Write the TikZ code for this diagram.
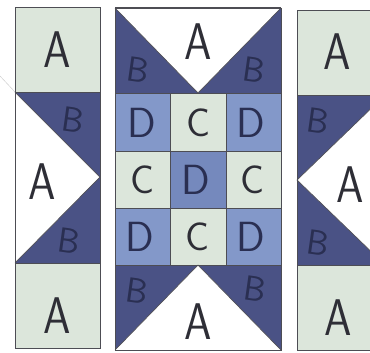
\documentclass[tikz,border=0pt]{standalone}
\definecolor{sage}{HTML}{DCE6DB}
\definecolor{navy}{HTML}{4A5285}
\definecolor{peri}{HTML}{8398C9}
\definecolor{perid}{HTML}{7589BD}
\definecolor{ink}{HTML}{2E2E36}
\definecolor{inkb}{HTML}{2A2F52}
\tikzset{
  edge/.style={draw=ink!85, line width=0.6pt},
  letA/.style={text=ink, font=\sffamily\fontsize{44}{48}\selectfont, xscale=0.85},
  letB/.style={text=inkb, font=\sffamily\fontsize{30}{32}\selectfont, rotate=-8},
  letC/.style={text=ink, font=\sffamily\fontsize{34}{36}\selectfont},
  letD/.style={text=inkb, font=\sffamily\fontsize{36}{38}\selectfont}
}
\begin{document}
\begin{tikzpicture}[x=0.03cm, y=-0.03cm]
    \useasboundingbox (0,0) rectangle (370,352);
    \clip (0,0) rectangle (370,352);
    \draw[gray!40] (0,76) -- (15,92);
    % left column
    \fill[sage] (15,7) rectangle (100,92);
    \fill[navy] (15,92) rectangle (100,263);
    \fill[white] (15,92) -- (100,177) -- (15,263) -- cycle;
    \fill[sage] (15,263) rectangle (100,348);
    \draw[edge] (15,7) rectangle (100,348);
    \draw[edge] (15,92) -- (100,92) (15,263) -- (100,263);
    \draw[edge] (15,92) -- (100,177) -- (15,263);
    \node[letA] (lA1) at (57,50) {A};
    \node[letB] (lB1) at (73,120) {B};
    \node[letA] (lA2) at (42,182) {A};
    \node[letB] (lB2) at (69,241) {B};
    \node[letA] (lA3) at (57,316) {A};
    % middle block
    \fill[navy] (115,8) rectangle (281,93);
    \fill[white] (115,8) -- (281,8) -- (198,93) -- cycle;
    \fill[navy] (115,265) rectangle (281,350);
    \fill[white] (115,350) -- (281,350) -- (198,265) -- cycle;
    \fill[peri] (115,93) rectangle (170,151);
    \fill[sage] (170,93) rectangle (226,151);
    \fill[peri] (226,93) rectangle (281,151);
    \fill[sage] (115,151) rectangle (170,208);
    \fill[perid] (170,151) rectangle (226,208);
    \fill[sage] (226,151) rectangle (281,208);
    \fill[peri] (115,208) rectangle (170,265);
    \fill[sage] (170,208) rectangle (226,265);
    \fill[peri] (226,208) rectangle (281,265);
    \draw[edge] (115,8) rectangle (281,350);
    \draw[edge, line width=1.2pt] (115,8) -- (281,8);
    \draw[edge] (115,8) -- (198,93) -- (281,8);
    \draw[edge] (115,350) -- (198,265) -- (281,350);
    \foreach \y in {93,151,208,265}
        \draw[edge] (115,\y) -- (281,\y);
    \foreach \x in {170,226}
        \draw[edge] (\x,93) -- (\x,265);
    \node[letA] (mA1) at (198,42) {A};
    \node[letB] (mB1) at (138,70) {B};
    \node[letB] (mB2) at (254,70) {B};
    \node[letD] (d1) at (142,123) {D};
    \node[letC] (c1) at (198,123) {C};
    \node[letD] (d2) at (251,123) {D};
    \node[letC] (c2) at (142,180) {C};
    \node[letD] (d3) at (196,180) {D};
    \node[letC] (c3) at (252,180) {C};
    \node[letD] (d4) at (140,237) {D};
    \node[letC] (c4) at (197,237) {C};
    \node[letD] (d5) at (251,237) {D};
    \node[letB] (mB3) at (137,291) {B};
    \node[letB] (mB4) at (255,289) {B};
    \node[letA] (mA2) at (198,322) {A};
    % right column
    \fill[sage] (297,10) rectangle (385,95);
    \fill[navy] (297,95) rectangle (385,265);
    \fill[white] (385,95) -- (297,180) -- (385,265) -- cycle;
    \fill[sage] (297,265) rectangle (385,350);
    \draw[edge] (297,10) rectangle (385,350);
    \draw[edge] (297,95) -- (385,95) (297,265) -- (385,265);
    \draw[edge] (385,95) -- (297,180) -- (385,265);
    \node[letA] (rA1) at (337,52) {A};
    \node[letB] (rB1) at (318,121) {B};
    \node[letA] (rA2) at (350,185) {A};
    \node[letB] (rB2) at (318,243) {B};
    \node[letA] (rA3) at (338,318) {A};
\end{tikzpicture}
\end{document}
